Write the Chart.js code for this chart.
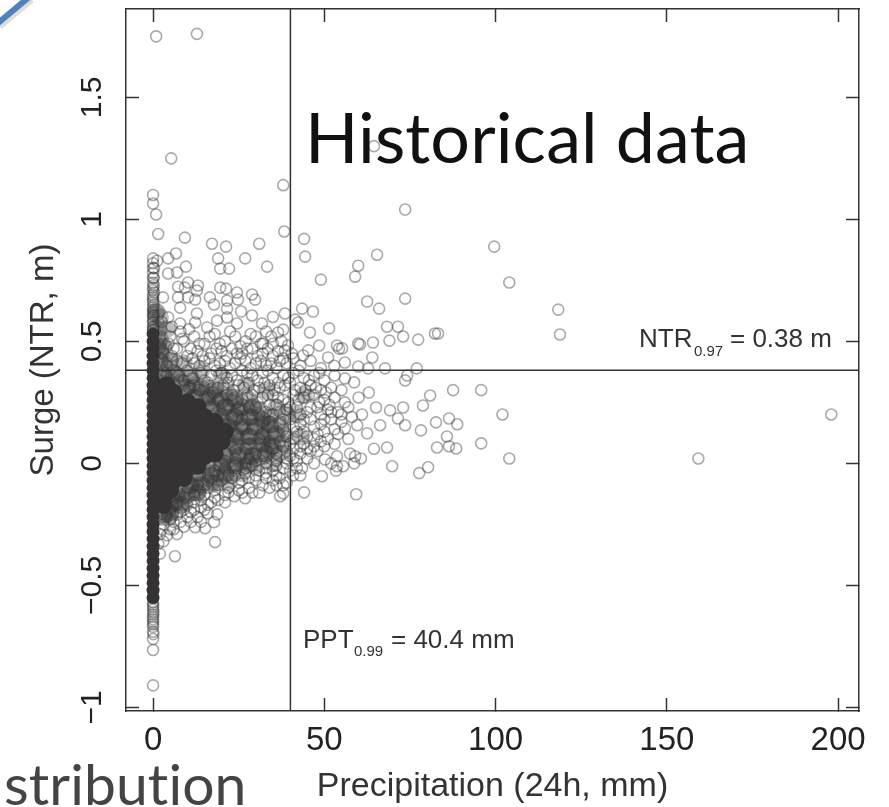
<!DOCTYPE html>
<html>
<head>
<meta charset="utf-8">
<title>Historical data</title>
<script src="https://cdn.jsdelivr.net/npm/chart.js@4/dist/chart.umd.min.js"></script>
<style>
  html, body { margin: 0; padding: 0; background: #fff; overflow: hidden; }
  canvas { display: block; }
</style>
</head>
<body>
<canvas id="myChart" width="889" height="807"></canvas>
<script>
var xTicks = [0, 50, 100, 150, 200];
var yTicks = [-1, -0.5, 0, 0.5, 1, 1.5];
var yTickLabels = ['−1', '−0.5', '0', '0.5', '1', '1.5'];
var pptLine = [[40.1, -1.015], [40.1, 1.862]];
var ntrLine = [[-7.9, 0.381], [206.1, 0.381]];

// the solid stem at zero rain
var stemY = [-0.55, -0.52, -0.49, -0.46, -0.43, -0.4, -0.37, -0.34, -0.31, -0.28, -0.25, -0.22, -0.19, -0.16, -0.13, -0.1, -0.07, -0.04, -0.01, 0.02, 0.05, 0.08, 0.11, 0.14, 0.17, 0.2, 0.23, 0.26, 0.29, 0.32, 0.35, 0.38, 0.41, 0.44, 0.47, 0.5, 0.53];

// the part of the cloud that prints as solid
var coreCloud = [[2, 0.31], [4, 0.32], [3, 0.28], [6, 0.29], [3, 0.23], [7, 0.23], [10, 0.25], [13, 0.23], [5, 0.205], [9, 0.205], [3, 0.18], [7, 0.18], [11, 0.18], [15, 0.19], [18, 0.17], [5, 0.155], [9, 0.155], [13, 0.155], [17, 0.15], [3, 0.13], [7, 0.13], [11, 0.13], [15, 0.13], [18, 0.13], [21, 0.13], [5, 0.105], [9, 0.105], [13, 0.105], [17, 0.105], [20, 0.11], [3, 0.08], [7, 0.08], [11, 0.08], [15, 0.08], [18, 0.08], [20, 0.09], [5, 0.055], [9, 0.055], [13, 0.055], [17, 0.055], [3, 0.03], [7, 0.03], [11, 0.03], [15, 0.03], [18, 0.04], [5, 0.005], [9, 0.005], [13, 0.005], [3, -0.02], [7, -0.02], [10, -0.02], [13, -0.01], [5, -0.045], [8, -0.045], [3, -0.07], [6, -0.07], [9, -0.06], [2, -0.11], [5, -0.11], [4, -0.09], [2, -0.16], [3, -0.17], [3, -0.14]];

// dark shoulder between the solid part and the ring field
var shadeCloud = [[10, 0.31], [14, 0.31], [18, 0.3], [12, 0.27], [16, 0.27], [20, 0.26], [24, 0.26], [17, 0.23], [21, 0.23], [25, 0.22], [29, 0.23], [20, 0.19], [24, 0.19], [28, 0.19], [32, 0.18], [22, 0.15], [26, 0.15], [30, 0.15], [34, 0.16], [24, 0.11], [28, 0.11], [32, 0.11], [36, 0.12], [24, 0.07], [28, 0.07], [32, 0.08], [35, 0.07], [21, 0.03], [25, 0.03], [29, 0.03], [33, 0.04], [16, -0.01], [20, -0.01], [24, -0.01], [28, 0], [13, -0.05], [17, -0.05], [21, -0.04], [11, -0.09], [14, -0.09], [18, -0.08], [7, -0.13], [10, -0.13], [13, -0.12], [5, -0.17], [8, -0.17], [3, -0.21], [5, -0.21], [3, 0.36], [7, 0.36], [11, 0.35], [2, 0.42], [5, 0.42], [1.5, 0.48], [3, 0.48], [1.5, 0.55], [1, 0.62]];

// a wash of overlapping rings around the core
var hazeCloud = [[8, 0.33], [12, 0.32], [16, 0.31], [21, 0.3], [9, 0.29], [13, 0.28], [18, 0.27], [23, 0.27], [28, 0.26], [16, 0.24], [21, 0.23], [26, 0.23], [31, 0.22], [36, 0.23], [19, 0.2], [24, 0.19], [29, 0.19], [34, 0.19], [39, 0.2], [22, 0.16], [27, 0.15], [32, 0.15], [37, 0.16], [24, 0.12], [28, 0.11], [33, 0.11], [38, 0.12], [24, 0.08], [29, 0.07], [34, 0.07], [38, 0.08], [22, 0.04], [27, 0.03], [32, 0.03], [37, 0.04], [20, 0], [25, -0.01], [30, -0.01], [35, 0], [16, -0.04], [21, -0.05], [26, -0.04], [12, -0.08], [17, -0.08], [22, -0.08], [8, -0.12], [13, -0.12], [6, -0.16], [9, -0.16], [5, -0.2], [3, -0.22], [3, 0.35], [6, 0.37], [3, 0.41], [2, 0.46], [2, 0.51], [4, 0.55], [2, 0.6], [42, 0.2], [43, 0.11], [44, 0.28], [33, 0.3], [27, 0.32], [20, 0.36], [14, 0.38], [9, 0.41]];

var upperRings = [[0, 1.1], [0, 1.065], [0.9, 1.02], [1.5, 0.94], [9.3, 0.925], [17.2, 0.9], [21.3, 0.888], [31, 0.9], [38, 1.14], [38.3, 0.95], [44.1, 0.92], [44.4, 0.847], [49, 0.753], [59.9, 0.81], [59, 0.765], [6.7, 0.86], [4.4, 0.84], [0, 0.84], [1.2, 0.83], [9.6, 0.806], [19, 0.84], [19.6, 0.798], [22.2, 0.798], [26.9, 0.84], [33.3, 0.806], [4.4, 0.778], [7, 0.782], [7.3, 0.724], [10.2, 0.741], [13.1, 0.729], [12.8, 0.708], [9.3, 0.72], [19.6, 0.72], [21.3, 0.716], [24.5, 0.7], [28.9, 0.692], [29.8, 0.671], [24.8, 0.671], [16.6, 0.68], [17.8, 0.651], [21.6, 0.667], [21.6, 0.634], [12.3, 0.671], [10.2, 0.68], [7.3, 0.68], [7.9, 0.638], [2.9, 0.68], [25.7, 0.622], [12.8, 0.614], [35, 0.6], [38.5, 0.614], [43.5, 0.634], [46.7, 0.622], [41.5, 0.589], [42.3, 0.577], [45.8, 0.536], [51.4, 0.553], [36.5, 0.536], [38, 0.548], [48.5, 0.483], [53.7, 0.483], [55.2, 0.471], [59.9, 0.491], [32.1, 0.491], [39.4, 0.483], [38.5, 0.463], [51.1, 0.434], [45.3, 0.463], [43.8, 0.442], [4.4, 0.598], [28.9, 0.606], [21.6, 0.598], [18.7, 0.585], [31.8, 0.573], [15.8, 0.557], [7.9, 0.573], [24.5, 0.573], [12.3, 0.577]];

var stemRings = [[0, 0.82], [0.3, 0.8], [0, 0.78], [0.2, 0.76], [0, 0.74], [0, 0.72], [0.3, 0.7], [0, 0.69], [0, 0.67], [0.2, 0.65], [0, 0.64], [0, 0.62], [0.2, 0.605], [0, 0.59], [0, 0.575], [0.1, 0.56], [0, 0.545], [0, -0.57], [0, -0.59], [0.1, -0.61], [0, -0.63], [0, -0.65], [0, -0.67], [0, -0.69], [0.1, -0.7], [0, -0.72], [0, -0.765], [0, -0.91], [0, 0.8], [0, 0.76], [0.2, 0.73], [0, 0.71], [0, 0.68], [0, 0.66], [0, 0.63], [0, 0.61], [0, 0.6], [0.1, 0.58], [0, 0.56], [0, 0.55], [0, -0.58], [0, -0.6], [0, -0.62], [0, -0.64], [0, -0.66]];

var farRings = [[0.9, 1.75], [12.8, 1.76], [5.3, 1.25], [64.5, 1.3], [73.6, 1.04], [99.6, 0.888], [104, 0.741], [65.4, 0.855], [62.5, 0.663], [66, 0.634], [73.6, 0.675], [118.3, 0.63], [118.8, 0.528], [82.3, 0.532], [83.2, 0.532], [77.4, 0.507], [71.5, 0.56], [73, 0.52], [69, 0.503], [64.2, 0.495], [60.4, 0.487], [68.3, 0.56], [64, 0.434], [56, 0.413], [54.3, 0.47], [62.8, 0.389], [67.7, 0.389], [59.9, 0.397], [56, 0.348], [58.7, 0.332], [52.9, 0.4], [73.6, 0.34], [74.2, 0.36], [77, 0.389], [87.6, 0.3], [95.8, 0.3], [102, 0.2], [198, 0.2], [159.2, 0.02], [104, 0.02], [95.8, 0.082], [80.9, 0.278], [78.8, 0.237], [73, 0.229], [71.5, 0.184], [73.6, 0.156], [65.1, 0.229], [69.2, 0.217], [78.2, 0.135], [82.6, 0.168], [86.4, 0.184], [88.8, 0.16], [85.8, 0.11], [86.4, 0.07], [88.5, 0.061], [82.9, 0.065], [80.3, -0.016], [77.7, -0.04], [69.8, -0.012], [59.3, -0.127], [44.1, -0.119], [64.5, 0.06], [68.3, 0.065], [60.7, 0.02], [58.7, 0], [57.5, 0.04], [62.5, 0.123], [66.3, 0.156], [59.6, 0.156], [56, 0.143], [52, 0], [53.4, -0.03]];

var lowerRings = [[6.4, -0.381], [18.1, -0.323], [15.2, -0.266], [17.8, -0.241], [18.7, -0.209], [16, -0.205], [12.3, -0.262], [4.1, -0.295], [26.9, -0.143], [23.7, -0.135], [37.1, -0.135], [38, -0.123], [49.3, -0.053], [53.7, -0.012], [55.5, -0.012], [53.7, 0.029], [59, 0.029], [50.2, 0.016], [43.5, -0.02], [40.9, -0.05], [8, -0.24], [10, -0.22], [6, -0.27], [3, -0.32], [2.5, -0.27], [11, -0.2], [13, -0.22], [14, -0.18], [9, -0.19], [7, -0.21], [5, -0.23], [16, -0.17], [19, -0.15], [21, -0.13], [12, -0.16], [18, -0.11], [22, -0.1], [25, -0.11], [28, -0.1], [31, -0.12], [34, -0.1], [36, -0.09], [30, -0.07], [33, -0.06], [26, -0.07], [23, -0.06], [37, -0.06], [39, -0.08], [20, -0.07], [27, -0.04], [31, -0.03], [35, -0.03], [38, -0.02], [24, -0.03], [29, -0.01], [33, 0], [36, 0.01], [39, 0], [41, 0.02], [43, -0.05], [45, 0.02], [47, 0], [48, 0.05]];

var midRings = [[3, 0.45], [6, 0.47], [9, 0.5], [12, 0.52], [15, 0.49], [18, 0.53], [21, 0.5], [24, 0.52], [27, 0.5], [30, 0.52], [33, 0.54], [35, 0.49], [5, 0.52], [8, 0.54], [13, 0.46], [17, 0.45], [20, 0.46], [23, 0.47], [26, 0.45], [29, 0.47], [32, 0.45], [35, 0.44], [37, 0.42], [10, 0.44], [7, 0.42], [4, 0.4], [12, 0.41], [15, 0.42], [18, 0.4], [21, 0.42], [24, 0.41], [27, 0.42], [30, 0.41], [33, 0.4], [36, 0.39], [39, 0.41], [41, 0.43], [43, 0.4], [46, 0.42], [49, 0.39], [10, 0.38], [14, 0.37], [17, 0.36], [20, 0.37], [23, 0.36], [26, 0.38], [29, 0.36], [32, 0.37], [35, 0.35], [38, 0.36], [41, 0.37], [44, 0.35], [47, 0.36], [50, 0.34], [53, 0.36], [16, 0.33], [19, 0.31], [22, 0.33], [25, 0.32], [28, 0.33], [31, 0.31], [34, 0.32], [37, 0.31], [40, 0.33], [43, 0.31], [46, 0.32], [49, 0.3], [52, 0.31], [55, 0.3], [23, 0.28], [26, 0.26], [29, 0.28], [32, 0.27], [35, 0.28], [38, 0.26], [41, 0.28], [44, 0.27], [47, 0.28], [50, 0.26], [53, 0.27], [56, 0.25], [60, 0.27], [63, 0.29], [30, 0.23], [33, 0.21], [36, 0.24], [39, 0.22], [42, 0.23], [45, 0.21], [48, 0.23], [51, 0.22], [54, 0.21], [57, 0.23], [61, 0.2], [34, 0.17], [37, 0.16], [40, 0.18], [43, 0.16], [46, 0.18], [49, 0.16], [52, 0.18], [55, 0.17], [58, 0.19], [35, 0.12], [39, 0.11], [42, 0.13], [45, 0.11], [48, 0.12], [51, 0.1], [54, 0.12], [57, 0.1], [35, 0.06], [38, 0.07], [41, 0.06], [44, 0.08], [47, 0.07], [50, 0.07], [53, 0.08], [28, 0.02], [32, 0.03], [36, 0.04], [40, 0.03], [43, 0.04], [24, -0.01], [6, 0.33], [4, 0.36], [9, 0.34], [12, 0.32]];

// second pass over the busy part of the cloud
var denseRings = [[2.5, 0.58], [5.5, 0.56], [8.5, 0.51], [10.5, 0.55], [13.5, 0.49], [16.5, 0.52], [19.5, 0.49], [22.5, 0.54], [25.5, 0.48], [28.5, 0.53], [31.5, 0.49], [34.5, 0.52], [37.5, 0.5], [4.5, 0.49], [7, 0.47], [11, 0.47], [14.5, 0.44], [18.5, 0.47], [21.5, 0.44], [24.5, 0.45], [27.5, 0.47], [30.5, 0.44], [33.5, 0.47], [36.5, 0.46], [5.5, 0.44], [8.5, 0.41], [11.5, 0.43], [13.5, 0.4], [16.5, 0.43], [19.5, 0.41], [22.5, 0.39], [25.5, 0.43], [28.5, 0.39], [31.5, 0.42], [34.5, 0.41], [38, 0.43], [40.5, 0.45], [3, 0.38], [7.5, 0.36], [11.5, 0.35], [15, 0.34], [18.5, 0.38], [21.5, 0.35], [24.5, 0.34], [27.5, 0.37], [30.5, 0.34], [33.5, 0.38], [36.5, 0.33], [39.5, 0.35], [42.5, 0.38], [45.5, 0.34], [48.5, 0.37], [10.5, 0.31], [13.5, 0.3], [17.5, 0.29], [20.5, 0.32], [23.5, 0.3], [26.5, 0.31], [29.5, 0.3], [32.5, 0.33], [35.5, 0.3], [38.5, 0.32], [41.5, 0.3], [44.5, 0.3], [47.5, 0.31], [50.5, 0.29], [16, 0.27], [19, 0.26], [21.5, 0.28], [24.5, 0.25], [27.5, 0.28], [30.5, 0.25], [33.5, 0.28], [36.5, 0.27], [39.5, 0.25], [42.5, 0.26], [45.5, 0.28], [48.5, 0.25], [51.5, 0.24], [22, 0.24], [25, 0.22], [28, 0.23], [31, 0.2], [34, 0.24], [37, 0.21], [40, 0.23], [43, 0.2], [46, 0.23], [49, 0.2], [52, 0.21], [55, 0.2], [23, 0.19], [26, 0.18], [29, 0.2], [32, 0.17], [35, 0.2], [38, 0.18], [41, 0.15], [44, 0.18], [47, 0.15], [50, 0.18], [53, 0.14], [26, 0.15], [29, 0.14], [32, 0.12], [35, 0.15], [38, 0.14], [41, 0.1], [44, 0.13], [47, 0.1], [50, 0.13], [25, 0.1], [28, 0.08], [31, 0.1], [34, 0.09], [37, 0.09], [40, 0.08], [43, 0.07], [46, 0.05], [49, 0.09], [24, 0.05], [27, 0.06], [30, 0.04], [33, 0.05], [36, 0.02], [39, 0.05], [42, 0.01], [45, 0.06], [21, 0.01], [24, 0.02], [27, 0], [30, 0.01], [33, -0.02], [36, -0.01], [39, 0.02], [42, -0.02], [18, -0.03], [21, -0.02], [24, -0.05], [27, -0.02], [30, -0.05], [33, -0.04], [36, -0.05], [40, -0.03], [13, -0.05], [16, -0.07], [19, -0.05], [22, -0.05], [25, -0.08], [28, -0.06], [32, -0.09], [35, -0.07], [38, -0.09], [10, -0.1], [13, -0.09], [16, -0.1], [19, -0.09], [22, -0.12], [26, -0.12], [29, -0.12], [9, -0.14], [12, -0.13], [15, -0.13], [18, -0.14], [21, -0.16], [7, -0.17], [10, -0.17], [14, -0.15], [17, -0.16], [5, -0.19], [8, -0.2], [12, -0.19], [15, -0.19], [4, -0.22], [6, -0.24], [9, -0.26], [11, -0.24], [14, -0.24], [3, -0.25], [2, -0.29], [5, -0.27], [7, -0.29], [1.5, -0.33], [2, -0.37]];

var ringColor = 'rgba(55,52,52,0.42)';

var overlayText = {
    id: 'overlayText',
    afterDraw: function (chart) {
        var ctx = chart.ctx;
        ctx.save();
        // corner of a slide graphic behind the figure
        ctx.strokeStyle = 'rgba(120,120,120,0.25)';
        ctx.lineWidth = 5;
        ctx.beginPath();
        ctx.moveTo(0, 27);
        ctx.lineTo(32, 0);
        ctx.stroke();
        ctx.strokeStyle = '#4f81bd';
        ctx.lineWidth = 6;
        ctx.beginPath();
        ctx.moveTo(-2, 23);
        ctx.lineTo(28, -2);
        ctx.stroke();

        ctx.textBaseline = 'alphabetic';
        ctx.textAlign = 'left';
        // small spacing keeps Lato from joining "ti"
        ctx.letterSpacing = '0.1px';
        ctx.fillStyle = '#111';
        ctx.font = '70px Lato';
        ctx.fillText('Historical data', 305, 163);
        ctx.fillStyle = '#444';
        ctx.font = '57px Lato';
        ctx.fillText('stribution', 4, 805);
        ctx.letterSpacing = '0px';

        ctx.fillStyle = '#333';
        ctx.font = '26px "Liberation Sans"';
        ctx.fillText('NTR', 639, 347);
        ctx.fillText('= 0.38 m', 730, 347);
        ctx.fillText('PPT', 303, 648);
        ctx.fillText('= 40.4 mm', 391, 648);
        ctx.font = '15px "Liberation Sans"';
        ctx.fillText('0.97', 694, 356);
        ctx.fillText('0.99', 354, 656);
        ctx.restore();
    }
};

function rings(points) {
    return {
        data: points,
        pointRadius: 5.5,
        pointBorderWidth: 1.6,
        pointBorderColor: ringColor,
        pointBackgroundColor: 'transparent'
    };
}

function ruleLine(points) {
    return {
        type: 'line',
        data: points,
        borderColor: '#333',
        borderWidth: 1.5,
        pointRadius: 0
    };
}

function axis(position, values, size, ticks, title) {
    var horizontal = position === 'bottom' || position === 'top';
    ticks.autoSkip = false;
    return {
        type: 'linear',
        position: position,
        min: horizontal ? -7.9 : -1.015,
        max: horizontal ? 206.1 : 1.862,
        grid: { drawOnChartArea: false, drawTicks: true, tickLength: -13, tickWidth: 1.5, tickColor: '#333' },
        border: { display: true, color: '#333', width: 1.5 },
        ticks: ticks,
        title: title,
        afterBuildTicks: function (scale) {
            scale.ticks = values.map(function (v) { return { value: v }; });
        },
        afterFit: function (scale) {
            if (horizontal) scale.height = size;
            else scale.width = size;
            // labels may hang over the ends, the plot box stays where it is
            scale.paddingTop = 0;
            scale.paddingBottom = 0;
            scale.paddingLeft = 0;
            scale.paddingRight = 0;
        }
    };
}

var ctx = document.getElementById('myChart').getContext('2d');
var chart = new Chart(ctx, {
    type: 'scatter',
    data: {
        datasets: [
            ruleLine(pptLine),
            ruleLine(ntrLine),
            rings(upperRings),
            rings(stemRings),
            rings(farRings),
            rings(lowerRings),
            rings(midRings),
            rings(denseRings),
            { data: stemY.map(function (y) { return [0, y]; }), pointRadius: 6.5, pointBorderWidth: 0, pointBackgroundColor: '#343232' },
            { data: coreCloud, pointRadius: 9, pointBorderWidth: 0, pointBackgroundColor: '#343232' },
            { data: shadeCloud, pointRadius: 9, pointBorderWidth: 0, pointBackgroundColor: 'rgba(52,50,50,0.45)' },
            { data: hazeCloud, pointRadius: 9, pointBorderWidth: 0, pointBackgroundColor: 'rgba(52,50,50,0.32)' }
        ]
    },
    plugins: [overlayText],
    options: {
        responsive: false,
        animation: false,
        plugins: { legend: { display: false }, tooltip: { enabled: false } },
        layout: { padding: 0 },
        scales: {
            x: axis('bottom', xTicks, 96, { display: true, font: { family: 'Liberation Sans', size: 33 }, color: '#222', padding: 23, maxRotation: 0, callback: function (v) { return v; } }, { display: true, text: 'Precipitation (24h, mm)', font: { family: 'Liberation Sans', size: 34 }, color: '#333', padding: { top: 0, bottom: 0 } }),
            y: axis('left', yTicks, 126, { display: true, font: { family: 'Liberation Sans', size: 30 }, color: '#222', padding: 17, minRotation: 90, maxRotation: 90, crossAlign: 'center', callback: function (v) { return yTickLabels[yTicks.indexOf(v)]; } }, { display: true, text: 'Surge (NTR, m)', font: { family: 'Liberation Sans', size: 33 }, color: '#333', padding: { top: 24, bottom: 0 } }),
            xTop: axis('top', xTicks, 8, { display: false }, { display: false }),
            yRight: axis('right', yTicks, 30, { display: false }, { display: false })
        }
    }
});
</script>
</body>
</html>
